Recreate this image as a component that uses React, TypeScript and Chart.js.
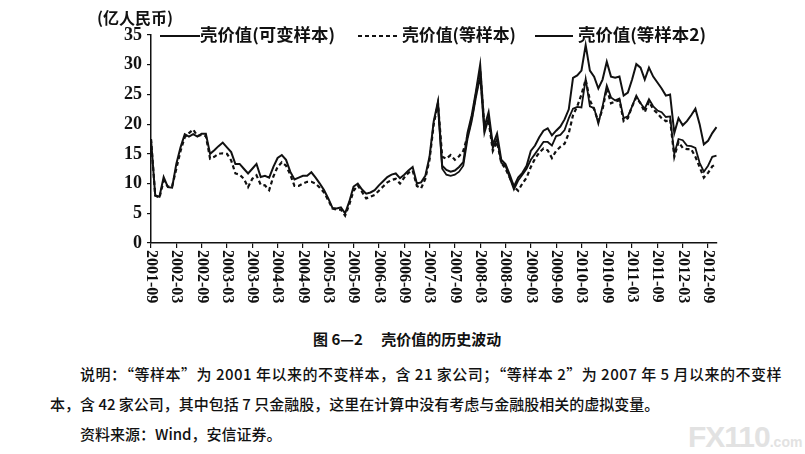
import { useEffect, useRef } from "react";
import Chart from "chart.js/auto";

// monthly categories, 2001-09 .. 2012-11
const months: string[] = [];
for (let k = 0; k < 135; k++) {
  const t = 2001 * 12 + 8 + k;
  months.push(`${Math.floor(t / 12)}-${String((t % 12) + 1).padStart(2, "0")}`);
}

// 壳价值(可变样本)
const variableSample = [
  17.5, 8.0, 7.8, 11.1, 9.4, 9.3, 13.3, 16.1, 18.3, 17.9,
  18.3, 17.9, 18.4, 18.4, 15.0, 15.6, 16.3, 16.9, 16.1, 15.3,
  13.3, 13.3, 12.5, 11.7, 12.5, 13.3, 11.1, 11.3, 11.0, 12.8,
  14.3, 14.8, 14.0, 12.0, 10.7, 11.0, 11.3, 11.3, 11.9, 11.0,
  10.0, 8.9, 7.5, 5.9, 5.8, 6.0, 5.0, 7.0, 9.5, 10.0,
  9.0, 8.3, 8.5, 8.9, 9.7, 10.4, 11.1, 11.5, 11.7, 10.9,
  11.5, 12.2, 12.8, 10.0, 10.2, 11.3, 14.5, 20.5, 23.8, 13.0,
  12.3, 12.0, 12.2, 12.8, 13.6, 18.5, 21.5, 25.5, 30.0, 19.5,
  22.0, 16.5, 18.4, 14.0, 13.3, 11.5, 9.5, 11.0, 11.8, 13.0,
  15.5, 16.4, 17.8, 18.9, 19.3, 18.1, 18.9, 19.6, 20.8, 22.5,
  27.8, 28.2, 29.0, 33.3, 29.0, 28.0, 26.0, 27.5, 30.5, 28.0,
  27.8, 28.0, 24.8, 25.3, 27.5, 30.1, 29.5, 27.5, 29.5, 28.0,
  27.0, 26.0, 24.8, 25.0, 18.5, 21.0, 19.8, 20.5, 21.5, 22.6,
  20.0, 16.6, 17.2, 18.5, 19.5,
];

// 壳价值(等样本)
const fixedSample = [
  17.5, 8.0, 7.6, 10.5, 9.5, 9.5, 12.5, 15.5, 17.8, 18.5,
  19.1, 18.0, 18.2, 18.0, 14.2, 14.5, 15.0, 15.1, 15.0, 13.9,
  11.7, 11.5, 10.8, 9.4, 10.8, 11.4, 9.8, 9.7, 8.9, 11.2,
  12.8, 13.6, 13.0, 11.5, 9.6, 9.6, 10.0, 10.3, 10.3, 10.0,
  9.3, 8.5, 7.2, 5.8, 5.6, 5.6, 4.6, 6.5, 8.8, 9.7,
  8.6, 7.5, 7.8, 8.1, 8.8, 9.5, 10.2, 10.6, 10.8, 10.0,
  11.0, 11.8, 12.2, 9.6, 9.2, 10.8, 14.0, 20.0, 23.5, 14.5,
  14.2, 14.8, 14.0, 14.6, 15.5, 18.0, 21.0, 25.0, 29.0, 19.5,
  20.5, 15.5, 17.0, 13.5, 12.5, 11.0, 9.5, 8.8, 10.0, 11.0,
  12.8, 14.2, 15.2, 15.9, 15.6, 14.3, 15.5, 16.2, 16.7, 18.5,
  21.5, 23.0, 25.0, 27.5, 24.0, 22.5, 20.5, 22.5, 26.0, 23.5,
  23.8, 24.0, 20.5, 21.0, 23.0, 24.5, 23.5, 22.0, 23.8, 22.5,
  21.8, 21.0, 20.5, 20.8, 14.5, 17.0, 16.0, 15.8, 15.8, 14.5,
  12.8, 11.0, 11.8, 12.9, 13.3,
];

// 壳价值(等样本2), starts 2007-05
const fixedSample2: (number | null)[] = [
  ...Array(68).fill(null),
  23.0, 12.5,
  11.5, 11.3, 11.5, 12.0, 13.0, 17.5, 20.5, 24.5, 28.0, 18.5,
  21.0, 16.0, 17.5, 13.5, 13.0, 11.0, 9.0, 10.5, 11.5, 12.5,
  14.0, 15.0, 16.0, 17.0, 17.0, 16.4, 18.0, 18.2, 19.0, 21.0,
  22.6, 22.9, 22.8, 27.6, 23.0, 22.7, 20.1, 23.0, 26.5, 24.5,
  24.0, 24.3, 21.0, 21.3, 23.0, 24.8, 23.5, 22.6, 24.2, 23.0,
  22.3, 22.0, 21.2, 21.3, 15.0, 17.5, 17.3, 16.4, 16.3, 16.0,
  13.5, 12.0, 13.0, 14.5, 14.7,
];

const seriesNames = ["壳价值(可变样本)", "壳价值(等样本)", "壳价值(等样本2)"];

const INK = "#111";
const CJK = "'Noto Sans CJK SC', sans-serif";
const NUM = "'Liberation Serif', serif";

// legend sample lines + text slots
const legendSlots = [
  { x0: 160, x1: 200, tx: 200, tw: 135, dash: [] as number[] },
  { x0: 358, x1: 400, tx: 402, tw: 114, dash: [4, 3] },
  { x0: 535, x1: 573, tx: 578, tw: 128, dash: [] as number[] },
];

const extras = {
  id: "extras",
  afterDraw(chart: any) {
    const { ctx } = chart;
    const xs = chart.scales.x;
    ctx.save();
    ctx.fillStyle = INK;
    ctx.font = `bold 16px ${NUM}`;
    ctx.textAlign = "left";
    ctx.textBaseline = "middle";
    months.forEach((m, i) => {
      if (i % 6) return;
      const x = xs.getPixelForValue(i);
      ctx.save();
      ctx.translate(x, xs.top + 7);
      ctx.rotate(Math.PI / 2);
      ctx.fillText(m, 0, 0);
      ctx.restore();
    });

    // legend
    const ly = 36;
    legendSlots.forEach((s, k) => {
      ctx.save();
      ctx.strokeStyle = INK;
      ctx.lineWidth = 2;
      ctx.setLineDash(s.dash);
      ctx.beginPath();
      ctx.moveTo(s.x0, ly);
      ctx.lineTo(s.x1, ly);
      ctx.stroke();
      ctx.restore();

      ctx.save();
      ctx.font = `bold 17px ${CJK}`;
      const w = ctx.measureText(seriesNames[k]).width;
      ctx.translate(s.tx, ly - 1);
      ctx.scale(s.tw / w, 1);
      ctx.fillText(seriesNames[k], 0, 0);
      ctx.restore();
    });
    ctx.restore();
  },
};

function ShellValueChart() {
  const canvasRef = useRef<HTMLCanvasElement | null>(null);

  useEffect(() => {
    if (!canvasRef.current) return;
    const ctx = canvasRef.current.getContext("2d");
    if (!ctx) return;

    const chart = new Chart(ctx, {
      type: "line",
      data: {
        labels: months,
        datasets: [
          {
            label: seriesNames[0],
            data: variableSample,
            borderColor: INK,
            borderWidth: 2,
            pointRadius: 0,
            tension: 0,
          },
          {
            label: seriesNames[1],
            data: fixedSample,
            borderColor: INK,
            borderWidth: 2.2,
            borderDash: [4, 3],
            pointRadius: 0,
            tension: 0,
          },
          {
            label: seriesNames[2],
            data: fixedSample2,
            borderColor: INK,
            borderWidth: 1.8,
            pointRadius: 0,
            tension: 0,
          },
        ],
      },
      options: {
        animation: false,
        responsive: true,
        maintainAspectRatio: false,
        layout: { padding: { left: 0, top: 35, right: 88.5, bottom: 0 } },
        plugins: {
          legend: { display: false },
          tooltip: { enabled: false },
        },
        scales: {
          x: {
            offset: false,
            afterFit: (scale: any) => {
              scale.height = 77;
            },
            border: { display: true, color: INK, width: 1.5 },
            grid: {
              drawOnChartArea: false,
              tickLength: 5,
              lineWidth: 1.2,
              color: (c: any) => (c.index % 6 === 0 ? INK : "rgba(0,0,0,0)"),
            },
            ticks: { display: false, autoSkip: false },
          },
          y: {
            min: 0,
            max: 35,
            afterFit: (scale: any) => {
              scale.width = 151;
            },
            border: { display: true, color: INK, width: 1.5 },
            grid: { drawOnChartArea: false, tickLength: 4, color: INK, lineWidth: 1.2 },
            ticks: {
              stepSize: 5,
              padding: 5,
              color: INK,
              font: { family: NUM, size: 18, weight: "bold" },
            },
          },
        },
      },
      plugins: [extras],
    });

    return () => {
      chart.destroy();
    };
  }, []);

  return <canvas ref={canvasRef} />;
}

export default function App() {
  const note: React.CSSProperties = {
    position: "absolute",
    fontFamily: CJK,
    fontSize: 15,
    lineHeight: "15px",
    whiteSpace: "nowrap",
    color: INK,
    fontWeight: 500,
  };
  return (
    <div
      style={{
        position: "fixed",
        left: 0,
        top: 0,
        width: 805,
        height: 454,
        background: "#fff",
        overflow: "hidden",
      }}
    >
      <div style={{ position: "absolute", left: 0, top: 0, width: 805, height: 320 }}>
        <ShellValueChart />
      </div>
      <div
        style={{
          ...note,
          left: 97,
          top: 9,
          fontSize: 16,
          lineHeight: "16px",
          fontWeight: 700,
        }}
      >
        (亿人民币)
      </div>
      <div style={{ ...note, left: 313, top: 331, fontWeight: 700 }}>
        图 6—2　&nbsp;壳价值的历史波动
      </div>
      <div style={{ ...note, left: 80, top: 366, letterSpacing: 0.5 }}>
        说明：“等样本”为 2001 年以来的不变样本，含 21 家公司；“等样本 2”为 2007 年 5 月以来的不变样
      </div>
      <div style={{ ...note, left: 50, top: 396 }}>
        本，含 42 家公司，其中包括 7 只金融股，这里在计算中没有考虑与金融股相关的虚拟变量。
      </div>
      <div style={{ ...note, left: 80, top: 426 }}>资料来源：Wind，安信证券。</div>
      <div
        style={{
          position: "absolute",
          left: 688,
          top: 420,
          fontFamily: "'Liberation Sans', sans-serif",
          fontWeight: 700,
          color: "#e2e2e2",
          whiteSpace: "nowrap",
        }}
      >
        <span style={{ fontSize: 30, letterSpacing: -1 }}>FX110</span>
        <span style={{ fontSize: 14 }}>.com</span>
      </div>
    </div>
  );
}
